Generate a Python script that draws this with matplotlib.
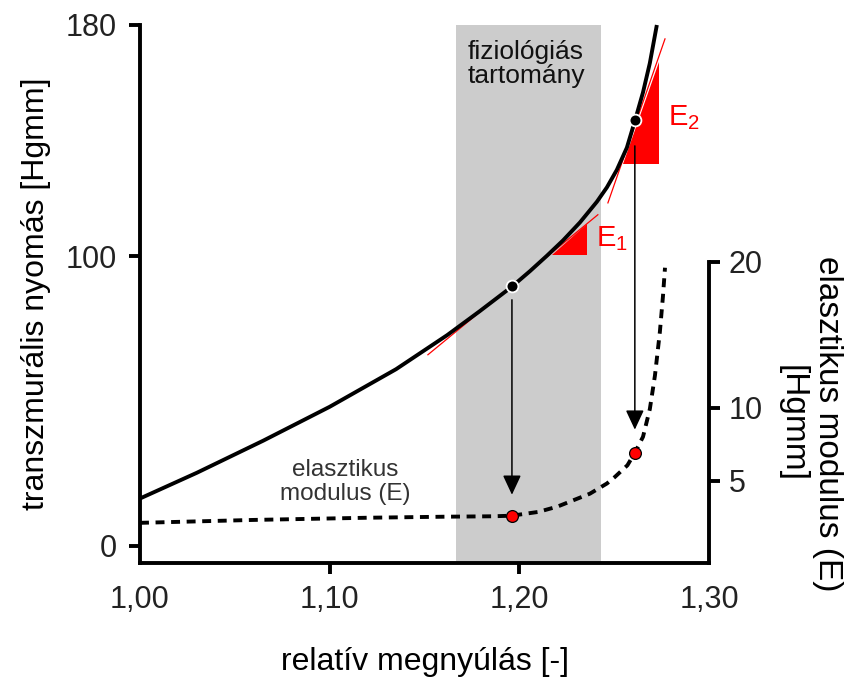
import matplotlib
matplotlib.use("Agg")
import matplotlib.pyplot as plt
from matplotlib.patches import Polygon

plt.rcParams['font.family'] = ['Liberation Sans', 'DejaVu Sans']
plt.rcParams['mathtext.fontset'] = 'custom'
plt.rcParams['mathtext.rm'] = 'Liberation Sans'
plt.rcParams['mathtext.it'] = 'Liberation Sans'

# --- data ---
strain = [1.000, 1.030, 1.065, 1.100, 1.135, 1.162, 1.179, 1.196, 1.2056, 1.2145,
          1.2230, 1.2319, 1.2409, 1.2462, 1.2514, 1.2567, 1.2609, 1.2652, 1.2688, 1.2725]
pressure = [16.3, 25.2, 36.3, 48.0, 61.0, 72.8, 81.0, 89.5, 94.9, 100.2,
            105.5, 111.7, 118.9, 123.9, 129.9, 137.6, 146.8, 156.7, 166.8, 180.0]

e_strain = [1.000, 1.060, 1.120, 1.160, 1.186, 1.196, 1.210, 1.220, 1.2372, 1.2462,
            1.2504, 1.2570, 1.2609, 1.2652, 1.2688, 1.2715, 1.2741, 1.2757, 1.2768]
e_mod = [2.10, 2.30, 2.45, 2.52, 2.55, 2.59, 2.85, 3.21, 4.10, 4.80,
         5.25, 6.05, 6.91, 8.00, 9.90, 12.20, 15.20, 17.60, 19.60]

band = [1.1665, 1.2433]
points_strain = [1.1961, 1.2609]
points_pressure = [89.6, 147.0]
points_modulus = [2.59, 6.91]
arrow_tip_pressure = [17.6, 40.1]
arrow_start_pressure = [85.0, 138.2]

tangent1_x = [1.1518, 1.2414]
tangent1_y = [66.0, 114.4]
tangent2_x = [1.2467, 1.2768]
tangent2_y = [118.5, 175.2]
tri1_x = [1.2172, 1.2356, 1.2356]
tri1_y = [100.6, 100.6, 111.3]
tri2_x = [1.2546, 1.2736, 1.2736]
tri2_y = [132.0, 132.0, 167.2]

xticks = [1.00, 1.10, 1.20, 1.30]
xticklabels = ['1,00', '1,10', '1,20', '1,30']
yticks = [0, 100, 180]
y2ticks = [5, 10, 20]

# --- figure ---
fig = plt.figure(figsize=(8.52, 6.77), dpi=100)
ax = fig.add_axes([140/852, 1-563/677, (709-140)/852, (563-25)/677])

ymin, ymax = -6, 180
ax.set_xlim(1.0, 1.3)
ax.set_ylim(ymin, ymax)

red = '#ff0000'
lw = 2.8
tick_fs = 22
lab_fs = 23

ax.axvspan(band[0], band[1], color='#cccccc', zorder=0, lw=0)

ax.add_patch(Polygon(list(zip(tri1_x, tri1_y)), closed=True, color=red, lw=0, zorder=2))
ax.add_patch(Polygon(list(zip(tri2_x, tri2_y)), closed=True, color=red, lw=0, zorder=2))
ax.plot(tangent1_x, tangent1_y, color=red, lw=0.9, zorder=3)
ax.plot(tangent2_x, tangent2_y, color=red, lw=0.9, zorder=3)

ax.plot(strain, pressure, color='black', lw=lw, zorder=4, solid_capstyle='butt',
        solid_joinstyle='round', clip_on=False)

for xs, y0, y1 in zip(points_strain, arrow_start_pressure, arrow_tip_pressure):
    ax.annotate('', xy=(xs, y1), xytext=(xs, y0),
                arrowprops=dict(arrowstyle='-|>,head_length=0.6,head_width=0.28',
                                mutation_scale=20, color='black', lw=1.1,
                                shrinkA=0, shrinkB=0), zorder=5)

ax.plot(points_strain, points_pressure, 'o', ms=8.5, mfc='black', mec='white', mew=1.3, zorder=6)

ax.text(1.2035, 166.5, 'fiziológiás\ntartomány', ha='center', va='center',
        fontsize=19, color='#111111', linespacing=1.0, zorder=3)
ax.text(1.108, 22.1, 'elasztikus\nmodulus (E)', ha='center', va='center',
        fontsize=17.5, color='#333333', linespacing=1.1, zorder=3)
ax.text(1.2405, 103.5, r'$\mathregular{E_1}$', color=red, fontsize=21, ha='left', va='baseline')
ax.text(1.2785, 145.5, r'$\mathregular{E_2}$', color=red, fontsize=21, ha='left', va='baseline')

# left / bottom axes styling
for s in ['top', 'right']:
    ax.spines[s].set_visible(False)
for s in ['left', 'bottom']:
    ax.spines[s].set_linewidth(lw)
ax.set_xticks(xticks)
ax.set_xticklabels(xticklabels)
ax.set_yticks(yticks)
ax.tick_params(axis='both', direction='out', length=8, width=lw, labelsize=tick_fs,
               labelcolor='#222222')
ax.tick_params(axis='y', pad=9)
ax.tick_params(axis='x', pad=8)
ticks = ax.xaxis.get_major_ticks()
ticks[0].tick1line.set_visible(False)
ticks[-1].tick1line.set_visible(False)
ax.set_xlabel('relatív megnyúlás [-]', fontsize=lab_fs, va='center')
ax.xaxis.set_label_coords(0.5, (563-662)/538)
ax.set_ylabel('transzmurális nyomás [Hgmm]', fontsize=lab_fs, va='center')
ax.yaxis.set_label_coords((36-140)/569, 0.5)

# right axis (elastic modulus)
def to_mod(L):
    return (L + 2.7) / 5.04

ax2 = ax.twinx()
ax2.set_ylim(to_mod(ymin), to_mod(ymax))
ax2.plot(e_strain, e_mod, color='black', lw=lw, linestyle=(0, (2.3, 1.7)), zorder=3)
ax2.plot(points_strain, points_modulus, 'o', ms=8.5, mfc=red, mec='black', mew=0.9, zorder=6)
for s in ['top', 'left', 'bottom']:
    ax2.spines[s].set_visible(False)
ax2.spines['right'].set_linewidth(lw)
ax2.spines['right'].set_bounds(to_mod(ymin), 20)
ax2.set_yticks(y2ticks)
ax2.tick_params(axis='y', direction='out', length=8, width=lw, labelsize=tick_fs,
                labelcolor='#222222', pad=6)

fig.text(810/852, 1-424/677, 'elasztikus modulus (E)\n[Hgmm]', rotation=270,
         ha='center', va='center', multialignment='center', fontsize=24, linespacing=1.2)

fig.savefig('out.png', dpi=100)
